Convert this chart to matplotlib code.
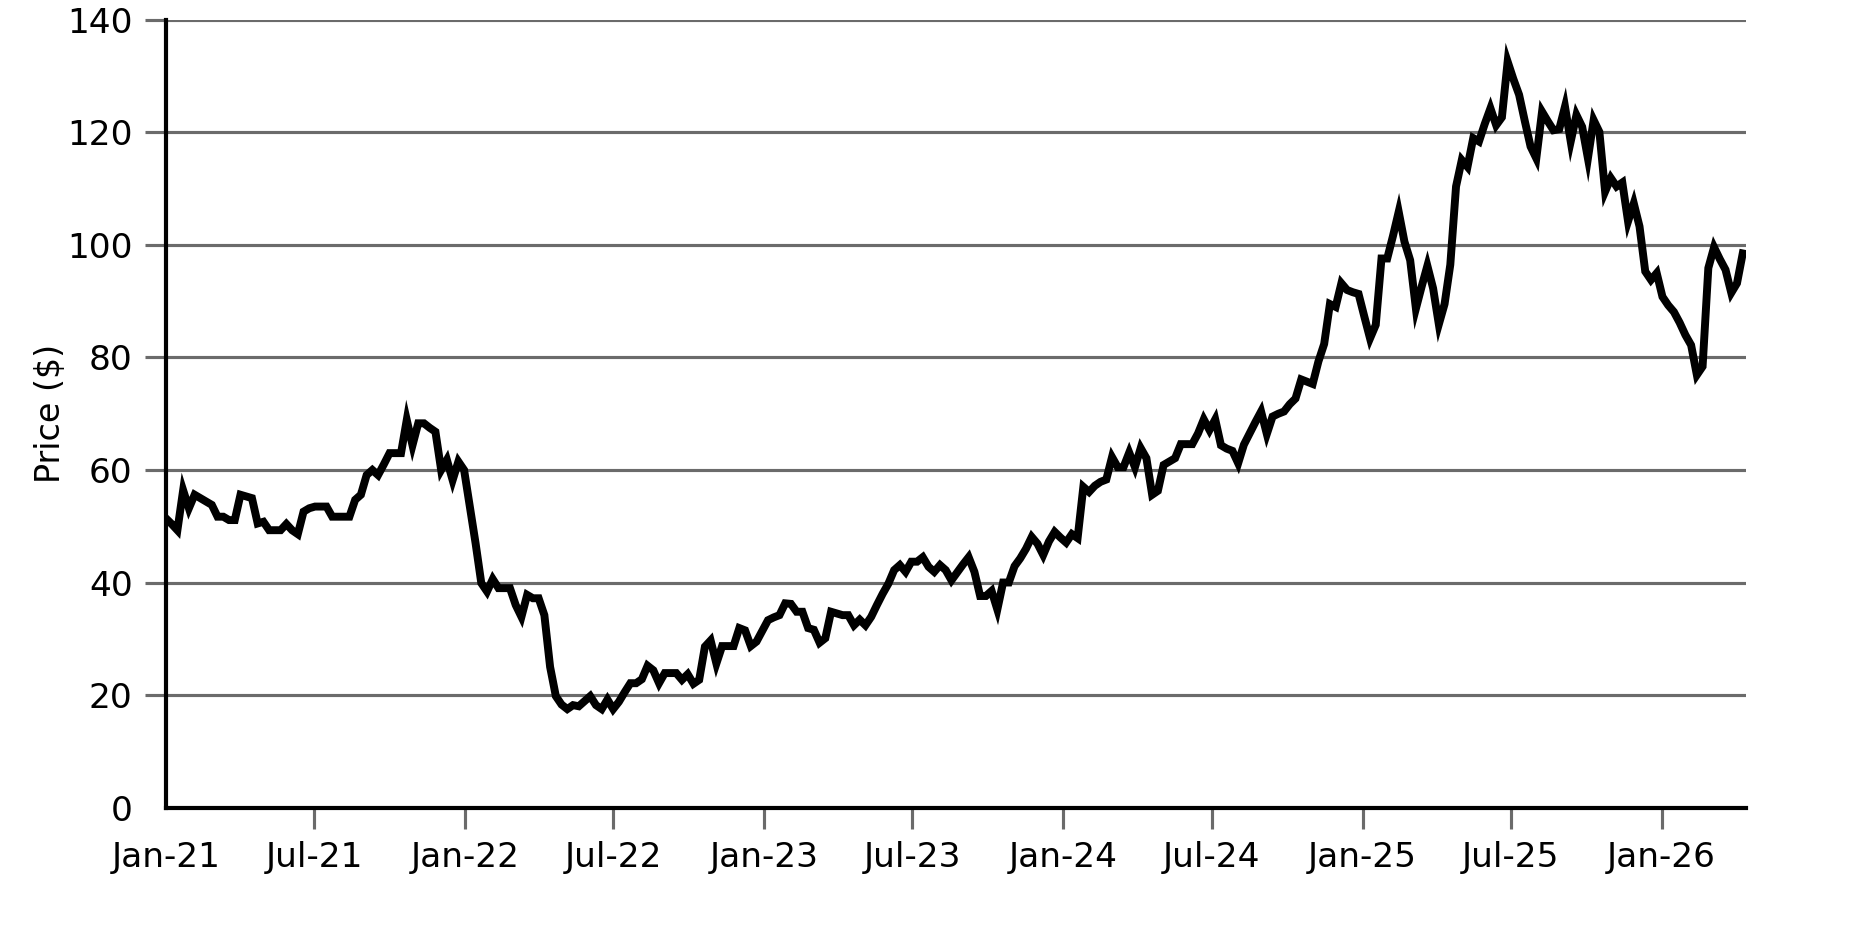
import pandas as pd
import matplotlib
matplotlib.use("Agg")
import matplotlib.pyplot as plt
import matplotlib.dates as mdates

# weekly closing price (first week = Jan 2021)
START_DATE = "2021-01-01"
price = [
    51.4, 50.4, 49.3, 56.4, 53.2, 55.6, 55.0, 54.4, 53.8, 51.7,
    51.7, 51.1, 51.1, 55.6, 55.3, 55.0, 50.5, 50.8, 49.3, 49.3,
    49.3, 50.4, 49.3, 48.6, 52.6, 53.2, 53.5, 53.5, 53.5, 51.7,
    51.7, 51.7, 51.7, 54.7, 55.6, 59.1, 60.0, 59.1, 61.0, 63.0,
    63.0, 63.0, 68.9, 64.4, 68.3, 68.3, 67.5, 66.8, 60.0, 61.8,
    58.2, 61.5, 60.0, 53.5, 47.0, 39.9, 38.4, 40.6, 39.0, 39.0,
    39.0, 36.0, 33.9, 37.8, 37.2, 37.2, 34.2, 25.0, 19.8, 18.3,
    17.5, 18.2, 18.0, 18.9, 19.8, 18.2, 17.5, 19.2, 17.5, 18.8,
    20.5, 22.1, 22.1, 22.8, 25.2, 24.4, 22.1, 23.9, 23.9, 23.9,
    22.7, 23.7, 22.0, 22.7, 28.6, 29.7, 25.6, 28.7, 28.7, 28.7,
    31.9, 31.5, 28.7, 29.5, 31.4, 33.3, 33.8, 34.2, 36.3, 36.2,
    34.8, 34.8, 31.9, 31.6, 29.3, 30.1, 34.8, 34.5, 34.2, 34.2,
    32.4, 33.4, 32.4, 33.9, 36.0, 38.0, 39.8, 42.2, 43.1, 41.9,
    43.7, 43.7, 44.5, 42.8, 41.9, 43.1, 42.2, 40.4, 41.8, 43.2,
    44.5, 41.9, 37.6, 37.6, 38.5, 35.2, 40.0, 40.0, 42.9, 44.3,
    46.0, 48.1, 46.9, 44.9, 47.3, 49.0, 48.0, 47.1, 48.6, 47.9,
    57.0, 56.1, 57.2, 57.9, 58.3, 62.3, 60.5, 60.5, 63.1, 60.5,
    63.9, 62.1, 55.6, 56.3, 60.9, 61.5, 62.1, 64.6, 64.6, 64.6,
    66.5, 69.0, 67.1, 69.0, 64.4, 63.8, 63.4, 61.2, 64.5, 66.5,
    68.5, 70.4, 66.4, 69.5, 70.0, 70.4, 71.7, 72.7, 76.1, 75.7,
    75.3, 79.3, 82.4, 89.5, 89.0, 93.2, 92.0, 91.6, 91.3, 87.3,
    83.4, 85.8, 97.6, 97.6, 101.6, 105.9, 100.6, 97.3, 88.7, 92.6,
    96.3, 92.3, 85.9, 89.5, 96.5, 110.4, 115.1, 113.9, 119.0, 118.4,
    121.5, 124.3, 121.3, 122.7, 132.6, 129.5, 126.7, 122.0, 117.5, 115.4,
    123.7, 122.0, 120.4, 120.6, 124.6, 118.4, 123.1, 121.0, 115.4, 122.2,
    120.1, 109.5, 111.9, 110.4, 111.1, 104.2, 107.4, 103.3, 95.3, 93.8,
    95.0, 90.8, 89.3, 88.1, 86.2, 84.0, 82.2, 76.9, 78.4, 95.9,
    99.6, 97.5, 95.6, 91.5, 93.2, 98.5,
]
y_ticks = [0, 20, 40, 60, 80, 100, 120, 140]
Y_LABEL = "Price ($)"

GRID_COLOR = "#6b6b6b"

dates = pd.date_range(START_DATE, periods=len(price), freq="7D")

fig = plt.figure(figsize=(12.5, 938 / 150), dpi=150)
ax = fig.add_axes([0.0885, 0.1391, 0.8427, 0.8396])

# price line
ax.plot(dates, price, color="black", linewidth=3.8, solid_joinstyle="miter", zorder=3)

# axes range
ax.set_xlim(pd.Timestamp("2021-01-01"), pd.Timestamp("2026-04-14"))
ax.set_ylim(0, 140)
ax.set_yticks(y_ticks)

# date ticks every January / July
ax.xaxis.set_major_locator(mdates.MonthLocator(bymonth=[1, 7]))
ax.xaxis.set_major_formatter(mdates.DateFormatter("%b-%y"))

# grid + spines
ax.grid(axis="y", color=GRID_COLOR, linewidth=1.5, zorder=1)
ax.set_axisbelow(True)
for side in ["top", "right"]:
    ax.spines[side].set_visible(False)
for side in ["left", "bottom"]:
    ax.spines[side].set_linewidth(2.0)
    ax.spines[side].set_color("black")
    ax.spines[side].set_zorder(4)

ax.tick_params(axis="both", direction="out", length=10, width=1.5,
               color=GRID_COLOR, labelsize=16.5, labelcolor="black", pad=6)

# no tick mark in the corner
fig.canvas.draw()
ax.yaxis.get_major_ticks()[0].tick1line.set_visible(False)
ax.xaxis.get_major_ticks()[0].tick1line.set_visible(False)

ax.set_ylabel(Y_LABEL, fontsize=16, labelpad=0)

fig.savefig("out.png", dpi=150)
